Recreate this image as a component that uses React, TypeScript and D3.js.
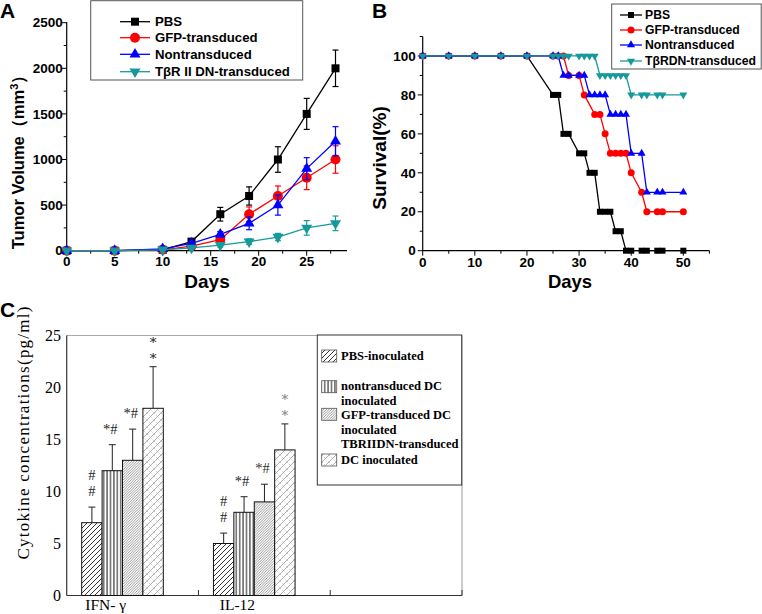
import React from "react";
import * as d3 from "d3";

// ---------- Panel A data ----------
const daysA = [0, 5, 10, 13, 16, 19, 22, 25, 28];
const pbsVol = [0, 0, 10, 100, 400, 600, 1000, 1500, 2000];
const pbsErr = [0, 0, 0, 20, 75, 100, 140, 170, 200];
const gfpVol = [0, 0, 10, 50, 120, 400, 600, 800, 1000];
const gfpErr = [0, 0, 0, 15, 40, 80, 110, 130, 150];
const nonVol = [0, 0, 20, 80, 180, 300, 500, 900, 1200];
const nonErr = [0, 0, 0, 20, 30, 70, 110, 120, 160];
const dnVol = [0, 0, 10, 30, 60, 100, 150, 250, 300];
const dnErr = [0, 0, 0, 10, 20, 30, 40, 80, 80];
const yTicksA = [0, 500, 1000, 1500, 2000, 2500];
const xTicksA = [0, 5, 10, 15, 20, 25, 30];
const legendA = ["PBS", "GFP-transduced", "Nontransduced", "TβR II DN-transduced"];

// ---------- Panel B data ----------
const pbsSurvDays = [0, 5, 10, 15, 20, 25, 26, 27, 28, 30, 31, 32, 33, 34, 35, 36, 37, 38, 39, 40, 42, 43, 45, 46, 50];
const pbsSurv = [100, 100, 100, 100, 100, 80, 80, 60, 60, 50, 50, 40, 40, 20, 20, 20, 10, 10, 0, 0, 0, 0, 0, 0, 0];
const gfpSurvDays = [0, 5, 10, 15, 20, 25, 26, 27, 28, 30, 31, 33, 34, 35, 36, 37, 38, 39, 40, 42, 43, 45, 46, 50];
const gfpSurv = [100, 100, 100, 100, 100, 100, 100, 100, 90, 90, 80, 70, 70, 60, 50, 50, 50, 50, 40, 30, 20, 20, 20, 20];
const nonSurvDays = [0, 5, 10, 15, 20, 25, 26, 27, 28, 30, 31, 32, 33, 34, 35, 36, 37, 38, 39, 40, 42, 43, 45, 46, 50];
const nonSurv = [100, 100, 100, 100, 100, 100, 100, 90, 90, 90, 90, 80, 80, 80, 80, 70, 70, 70, 70, 50, 50, 30, 30, 30, 30];
const dnSurvDays = [0, 5, 10, 15, 20, 25, 26, 27, 28, 30, 31, 32, 33, 34, 35, 36, 37, 38, 39, 40, 42, 43, 45, 46, 50];
const dnSurv = [100, 100, 100, 100, 100, 100, 100, 100, 100, 100, 100, 100, 100, 90, 90, 90, 90, 90, 90, 80, 80, 80, 80, 80, 80];
const xTicksB = [0, 10, 20, 30, 40, 50];
const yTicksB = [0, 20, 40, 60, 80, 100];
const legendB = ["PBS", "GFP-transduced", "Nontransduced", "TβRDN-transduced"];

// ---------- Panel C data ----------
const cytokines = ["IFN- γ", "IL-12", ""];
const groupsC = ["PBS-inoculated", "nontransduced DC inoculated", "GFP-transduced DC inoculated", "TBRIIDN-transduced DC inoculated"];
const ifnMeans = [7, 12, 13, 18];
const ifnErrs = [1.5, 2.5, 3, 4];
const il12Means = [5, 8, 9, 14];
const il12Errs = [1, 1.5, 1.7, 2.5];
const ifnMarks = [["#", "#"], ["*#"], ["*#"], ["*", "*"]];
const il12Marks = [["#", "#"], ["*#"], ["*#"], ["*", "*"]];
const yTicksC = [0, 5, 10, 15, 20, 25];

const colors = ["#000000", "#ff0000", "#0000ff", "#16999a"];
const shapes = ["square", "circle", "triUp", "triDown"];
const sans = "'Liberation Sans', Arial, sans-serif";
const serif = "'Liberation Serif', 'Times New Roman', serif";

function Marker({ shape, x, y, s, color }: any) {
  if (shape === "square") return <rect x={x - s / 2} y={y - s / 2} width={s} height={s} fill={color} />;
  if (shape === "circle") return <circle cx={x} cy={y} r={s / 2} fill={color} />;
  const h = s * 0.87;
  if (shape === "triUp")
    return <path d={`M${x},${y - (2 * h) / 3}L${x + s / 2},${y + h / 3}L${x - s / 2},${y + h / 3}Z`} fill={color} />;
  return <path d={`M${x},${y + (2 * h) / 3}L${x + s / 2},${y - h / 3}L${x - s / 2},${y - h / 3}Z`} fill={color} />;
}

function PanelA() {
  const x = d3.scaleLinear().domain([0, 30]).range([66.7, 354.7]);
  const y = d3.scaleLinear().domain([0, 2500]).range([250.7, 22.7]);
  const series = [
    { v: pbsVol, e: pbsErr },
    { v: gfpVol, e: gfpErr },
    { v: nonVol, e: nonErr },
    { v: dnVol, e: dnErr },
  ];
  const line = d3.line<number>().x((_, i) => x(daysA[i])).y((d) => y(d));
  const minorY = d3.range(250, 2500, 500);
  const minorX = d3.range(2.5, 30, 5);
  const sizes = [8, 10, 11, 11];
  return (
    <g fontFamily={sans}>
      <defs>
        <clipPath id="clipA">
          <rect x={0} y={0} width={347} height={300} />
        </clipPath>
      </defs>
      <text x={0} y={18} fontSize={21} fontWeight="bold">A</text>
      <g clipPath="url(#clipA)">
        <line x1={x(0)} x2={347} y1={y(0)} y2={y(0)} stroke="#000" strokeWidth={1.2} />
        <line x1={x(0)} x2={x(0)} y1={y(0)} y2={22} stroke="#000" strokeWidth={1.2} />
        {yTicksA.map((t) => (
          <g key={t}>
            <line x1={x(0) - 5} x2={x(0)} y1={y(t)} y2={y(t)} stroke="#000" />
            <text x={x(0) - 4} y={y(t)} dy="0.35em" textAnchor="end" fontSize={13.5} fontWeight="bold">{t}</text>
          </g>
        ))}
        {minorY.map((t) => (
          <line key={t} x1={x(0) - 3} x2={x(0)} y1={y(t)} y2={y(t)} stroke="#000" />
        ))}
        {xTicksA.map((t) => (
          <g key={t}>
            <line x1={x(t)} x2={x(t)} y1={y(0)} y2={y(0) + 5} stroke="#000" />
            <text x={x(t)} y={y(0) + 15} textAnchor="middle" fontSize={13.5} fontWeight="bold">{t}</text>
          </g>
        ))}
        {minorX.map((t) => (
          <line key={t} x1={x(t)} x2={x(t)} y1={y(0)} y2={y(0) + 3} stroke="#000" />
        ))}
        {series.map((s, k) => (
          <g key={k}>
            <path d={line(s.v) || ""} fill="none" stroke={colors[k]} strokeWidth={1.3} />
            {s.v.map((v, i) =>
              s.e[i] > 0 ? (
                <g key={i} stroke={colors[k]} strokeWidth={1.2}>
                  <line x1={x(daysA[i])} x2={x(daysA[i])} y1={y(v - s.e[i])} y2={y(v + s.e[i])} />
                  <line x1={x(daysA[i]) - 3} x2={x(daysA[i]) + 3} y1={y(v + s.e[i])} y2={y(v + s.e[i])} />
                  <line x1={x(daysA[i]) - 3} x2={x(daysA[i]) + 3} y1={y(v - s.e[i])} y2={y(v - s.e[i])} />
                </g>
              ) : null
            )}
            {s.v.map((v, i) => (
              <Marker key={i} shape={shapes[k]} x={x(daysA[i])} y={y(v)} s={sizes[k]} color={colors[k]} />
            ))}
          </g>
        ))}
      </g>
      <text x={207} y={288} textAnchor="middle" fontSize={19} fontWeight="bold">Days</text>
      <text transform="translate(24,158) rotate(-90)" textAnchor="middle" fontSize={16.5} fontWeight="bold">
        Tumor Volume（mm<tspan dy={-6} fontSize={11}>3</tspan><tspan dy={6}>）</tspan>
      </text>
      <rect x={90.7} y={0.7} width={212} height={79.3} fill="#fff" stroke="#555" strokeWidth={1} />
      {legendA.map((name, k) => {
        const ly = [21.7, 37.7, 54.3, 71.7][k];
        return (
          <g key={name}>
            <line x1={120} x2={150} y1={ly} y2={ly} stroke={colors[k]} strokeWidth={1.3} />
            <Marker shape={shapes[k]} x={135} y={ly} s={sizes[k]} color={colors[k]} />
            <text x={155} y={ly} dy="0.35em" fontSize={13.2} fontWeight="bold">{name}</text>
          </g>
        );
      })}
    </g>
  );
}

function PanelB() {
  const x = d3.scaleLinear().domain([0, 55]).range([422.7, 709.4]);
  const y = d3.scaleLinear().domain([0, 110]).range([250.7, 36.5]);
  const series = [
    { d: pbsSurvDays, v: pbsSurv },
    { d: gfpSurvDays, v: gfpSurv },
    { d: nonSurvDays, v: nonSurv },
    { d: dnSurvDays, v: dnSurv },
  ];
  const sizes = [6, 7, 8, 8];
  return (
    <g fontFamily={sans}>
      <text x={372} y={18} fontSize={21} fontWeight="bold">B</text>
      <line x1={x(0)} x2={x(55)} y1={y(0)} y2={y(0)} stroke="#000" strokeWidth={1.2} />
      <line x1={x(0)} x2={x(0)} y1={y(0)} y2={y(110)} stroke="#000" strokeWidth={1.2} />
      {yTicksB.map((t) => (
        <g key={t}>
          <line x1={x(0) - 5} x2={x(0)} y1={y(t)} y2={y(t)} stroke="#000" />
          <text x={x(0) - 7} y={y(t)} dy="0.35em" textAnchor="end" fontSize={13.5} fontWeight="bold">{t}</text>
        </g>
      ))}
      {d3.range(10, 111, 20).map((t) => (
        <line key={t} x1={x(0) - 3} x2={x(0)} y1={y(t)} y2={y(t)} stroke="#000" />
      ))}
      {xTicksB.map((t) => (
        <g key={t}>
          <line x1={x(t)} x2={x(t)} y1={y(0)} y2={y(0) + 5} stroke="#000" />
          <text x={x(t)} y={y(0) + 16} textAnchor="middle" fontSize={13.5} fontWeight="bold">{t}</text>
        </g>
      ))}
      {d3.range(5, 56, 10).map((t) => (
        <line key={t} x1={x(t)} x2={x(t)} y1={y(0)} y2={y(0) + 3} stroke="#000" />
      ))}
      {series.map((s, k) => {
        const line = d3.line<number>().x((_, i) => x(s.d[i])).y((d) => y(d));
        return (
          <g key={k}>
            <path d={line(s.v) || ""} fill="none" stroke={colors[k]} strokeWidth={1.3} />
            {s.v.map((v, i) => (
              <Marker key={i} shape={shapes[k]} x={x(s.d[i])} y={y(v)} s={sizes[k]} color={colors[k]} />
            ))}
          </g>
        );
      })}
      <text x={570} y={288} textAnchor="middle" fontSize={18.5} fontWeight="bold">Days</text>
      <text transform="translate(386,158) rotate(-90)" textAnchor="middle" fontSize={19} fontWeight="bold">Survival(%)</text>
      <rect x={611.7} y={4} width={149.5} height={65} fill="#fff" stroke="#555" strokeWidth={1} />
      {legendB.map((name, k) => {
        const ly = [15, 30, 45, 61][k];
        return (
          <g key={name}>
            <line x1={620} x2={642} y1={ly} y2={ly} stroke={colors[k]} strokeWidth={1.3} />
            <Marker shape={shapes[k]} x={631} y={ly} s={sizes[k]} color={colors[k]} />
            <text x={645} y={ly} dy="0.35em" fontSize={12.2} fontWeight="bold">{name}</text>
          </g>
        );
      })}
    </g>
  );
}

function PanelC() {
  const xBand = d3.scaleBand().domain(cytokines).range([66.7, 462]).padding(0);
  const y = d3.scaleLinear().domain([0, 25]).range([595.5, 335.5]);
  const barW = 20.4;
  const groupOffset = 15;
  const patterns = ["patPBS", "patNon", "patGFP", "patDN"];
  const data = [
    { c: cytokines[0], m: ifnMeans, e: ifnErrs, a: ifnMarks, ac: ["#222", "#222", "#222", "#222"] },
    { c: cytokines[1], m: il12Means, e: il12Errs, a: il12Marks, ac: ["#222", "#222", "#333", "#808080"] },
  ];
  const legendRows = [
    { lines: ["PBS-inoculated"], sy: 350, ty: [360] },
    { lines: ["nontransduced DC", "inoculated"], sy: 380.7, ty: [390, 404.5] },
    { lines: ["GFP-transduced DC", "inoculated", "TBRIIDN-transduced"], sy: 408.3, ty: [419, 433.5, 448] },
    { lines: ["DC inoculated"], sy: 454, ty: [464] },
  ];
  return (
    <g fontFamily={serif}>
      <defs>
        <pattern id="patPBS" patternUnits="userSpaceOnUse" width={5} height={5}>
          <rect width={5} height={5} fill="#fff" />
          <path d="M0,5L5,0M-1,1L1,-1M4,6L6,4" stroke="#000" strokeWidth={0.8} />
        </pattern>
        <pattern id="patNon" patternUnits="userSpaceOnUse" width={3.4} height={4}>
          <rect width={3.4} height={4} fill="#fff" />
          <line x1={1.7} x2={1.7} y1={0} y2={4} stroke="#000" strokeWidth={0.9} />
        </pattern>
        <pattern id="patGFP" patternUnits="userSpaceOnUse" width={2.6} height={2.6}>
          <rect width={2.6} height={2.6} fill="#fff" />
          <path d="M0,2.6L2.6,0M-0.65,0.65L0.65,-0.65M1.95,3.25L3.25,1.95" stroke="#555" strokeWidth={0.6} />
        </pattern>
        <pattern id="patDN" patternUnits="userSpaceOnUse" width={7} height={7}>
          <rect width={7} height={7} fill="#fff" />
          <path d="M0,7L7,0M-1,1L1,-1M6,8L8,6" stroke="#888" strokeWidth={0.7} />
          <path d="M0,0L3,3M3.5,3.5L7,7" stroke="#aaa" strokeWidth={0.6} strokeDasharray="1.5,1.5" />
        </pattern>
      </defs>
      <text x={0} y={317} fontSize={21} fontWeight="bold" fontFamily={sans}>C</text>
      <line x1={66.7} x2={462} y1={335.5} y2={335.5} stroke="#aaa" strokeWidth={1.2} />
      <line x1={462} x2={462} y1={335.5} y2={595.5} stroke="#aaa" strokeWidth={1.2} />
      <line x1={66.7} x2={462} y1={595.5} y2={595.5} stroke="#333" strokeWidth={1.2} />
      <line x1={66.7} x2={66.7} y1={335.5} y2={595.5} stroke="#333" strokeWidth={1.2} />
      {cytokines.map((c) => (
        <line key={c + "t"} x1={(xBand(c) as number) + xBand.bandwidth()} x2={(xBand(c) as number) + xBand.bandwidth()} y1={595.5} y2={590} stroke="#333" />
      ))}
      {yTicksC.map((t) => (
        <text key={t} x={61} y={y(t)} dy="0.35em" textAnchor="end" fontSize={16}>{t}</text>
      ))}
      {cytokines.slice(0, 2).map((c) => (
        <text key={c} x={(xBand(c) as number) + 39} y={610} textAnchor="middle" fontSize={15.5}>{c}</text>
      ))}
      {data.map((g) =>
        g.m.map((m, i) => {
          const bx = (xBand(g.c) as number) + groupOffset + i * barW;
          const cx = bx + barW / 2;
          const top = y(m + g.e[i]);
          const lines = g.a[i];
          const star = lines[0] === "*";
          const tx = cx - (lines[0].length > 1 ? 2 : 0);
          return (
            <g key={g.c + i}>
              <line x1={cx} x2={cx} y1={y(m)} y2={top} stroke="#222" strokeWidth={1} />
              <line x1={cx - 3.5} x2={cx + 3.5} y1={top} y2={top} stroke="#222" strokeWidth={1} />
              <rect x={bx} y={y(m)} width={barW} height={y(0) - y(m)} fill={`url(#${patterns[i]})`} stroke="#111" strokeWidth={1} />
              {star
                ? lines.map((l, j) => (
                    <text key={j} x={tx} y={top - 4 - (lines.length - 1 - j) * 16} textAnchor="middle" fontSize={13.5} fontFamily="'DejaVu Serif', serif" fill={g.ac[i]}>
                      {l}
                    </text>
                  ))
                : lines.map((l, j) => (
                    <text key={j} x={tx} y={top - 11 - (lines.length - 1 - j) * 16} textAnchor="middle" fontSize={14.5} fill={g.ac[i]}>
                      {l}
                    </text>
                  ))}
            </g>
          );
        })
      )}
      <text transform="translate(29,433) rotate(-90)" textAnchor="middle" fontSize={17} textLength={253} lengthAdjust="spacing">
        Cytokine concentrations(pg/ml)
      </text>
      <rect x={317.3} y={335} width={144.4} height={150} fill="#fff" stroke="#333" strokeWidth={1} />
      {legendRows.map((r, k) => (
        <g key={k}>
          <rect x={321.7} y={r.sy} width={15} height={12} fill={`url(#${patterns[k]})`} stroke="#555" strokeWidth={0.8} />
          {r.lines.map((l, j) => (
            <text key={j} x={341} y={r.ty[j]} fontSize={12.5} fontWeight="bold">{l}</text>
          ))}
        </g>
      ))}
    </g>
  );
}

export default function App() {
  return (
    <svg width={762} height={614} style={{ position: "absolute", left: 0, top: 0, background: "#fff" }}>
      <rect width={762} height={614} fill="#fff" />
      <PanelA />
      <PanelB />
      <PanelC />
    </svg>
  );
}
